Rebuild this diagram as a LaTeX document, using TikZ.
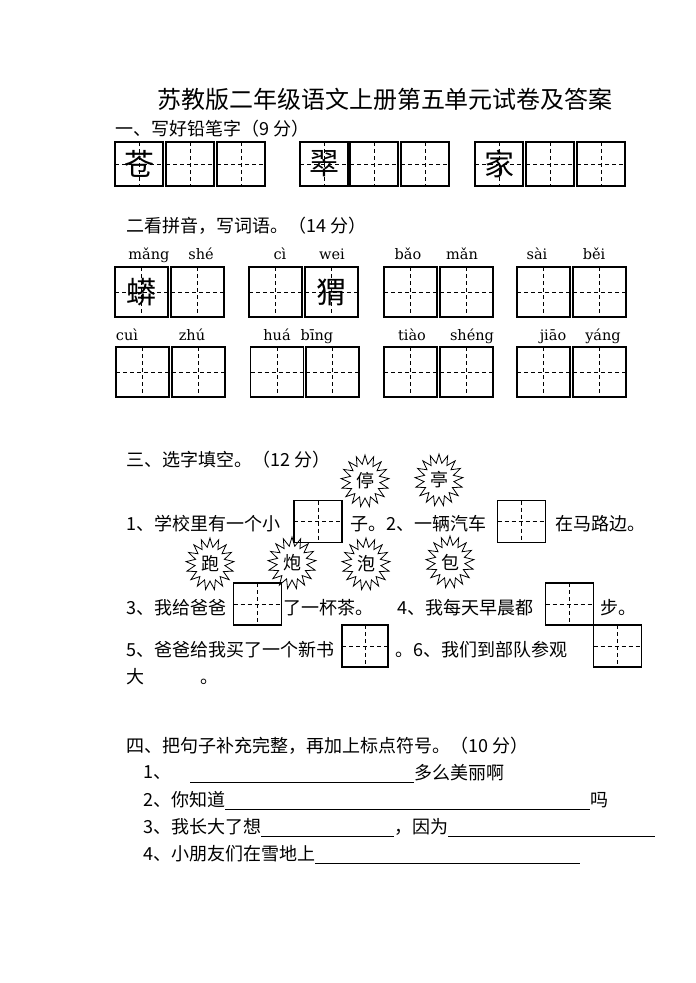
\documentclass[tikz,border=0pt]{standalone}
\usepackage{fontspec}
\setmainfont{Noto Sans CJK SC}
\newfontfamily\pyfont{DejaVu Serif}
\usepackage{tikz}
\usetikzlibrary{shapes.symbols}
\tikzstyle{tianzi} = [rectangle, draw=black, line width=1.2pt, inner sep=0pt, font=\fontsize{30}{30}\selectfont, path picture={\draw[black, line width=0.8pt, dash pattern=on 4pt off 3pt] (path picture bounding box.north) -- (path picture bounding box.south) (path picture bounding box.west) -- (path picture bounding box.east);}]
\tikzstyle{penbox} = [tianzi, minimum width=48pt, minimum height=44pt]
\tikzstyle{pybox} = [tianzi, minimum width=53pt, minimum height=50pt]
\tikzstyle{fillbox} = [tianzi, minimum width=48pt, minimum height=42pt]
\tikzstyle{txt} = [anchor=west, inner sep=0pt, font=\fontsize{18}{18}\selectfont]
\tikzstyle{pinyin} = [anchor=base, inner sep=0pt, font=\pyfont\fontsize{14.5}{14.5}\selectfont]
\tikzstyle{burst} = [starburst, draw=black, line width=0.8pt, starburst points=17, starburst point height=9pt, random starburst=0, minimum width=48pt, minimum height=52pt, inner sep=1pt, font=\fontsize{18}{18}\selectfont]
\tikzstyle{blank} = [line width=0.8pt]

\begin{document}
\begin{tikzpicture}[x=1pt, y=-1pt]
\useasboundingbox (0,0) rectangle (696,983);
\node (title) [inner sep=0pt, font=\fontsize{24}{24}\selectfont] at (385,99) {苏教版二年级语文上册第五单元试卷及答案};

% part one
\node (head1) [txt] at (115,129) {一、写好铅笔字（9 分）};
\node (w1) [penbox] at (139,164) {苍};
\node (w2) [penbox] at (190,164) {};
\node (w3) [penbox] at (241,164) {};
\node (w4) [penbox] at (324,164) {翠};
\node (w5) [penbox] at (374,164) {};
\node (w6) [penbox] at (425,164) {};
\node (w7) [penbox] at (499,164) {家};
\node (w8) [penbox] at (550,164) {};
\node (w9) [penbox] at (601,164) {};

% part two
\node (head2) [txt] at (126,226) {二看拼音，写词语。（14 分）};
\node (py1) [pinyin] at (149,259) {mǎng};
\node (py2) [pinyin] at (201,259) {shé};
\node (py3) [pinyin] at (280,259) {cì};
\node (py4) [pinyin] at (332,259) {wei};
\node (py5) [pinyin] at (408,259) {bǎo};
\node (py6) [pinyin] at (462,259) {mǎn};
\node (py7) [pinyin] at (537,259) {sài};
\node (py8) [pinyin] at (594,259) {běi};
\node (p1) [pybox] at (141.5,292) {蟒};
\node (p2) [pybox] at (197.5,292) {};
\node (p3) [pybox] at (275.5,292) {};
\node (p4) [pybox] at (331.5,292) {猬};
\node (p5) [pybox] at (410.5,292) {};
\node (p6) [pybox] at (466.5,292) {};
\node (p7) [pybox] at (543.5,292) {};
\node (p8) [pybox] at (599.5,292) {};
\node (py9) [pinyin] at (127,340) {cuì};
\node (py10) [pinyin] at (192,340) {zhú};
\node (py11) [pinyin] at (277,340) {huá};
\node (py12) [pinyin] at (317,340) {bīng};
\node (py13) [pinyin] at (412,340) {tiào};
\node (py14) [pinyin] at (472,340) {shéng};
\node (py15) [pinyin] at (553,340) {jiāo};
\node (py16) [pinyin] at (603,340) {yáng};
\node (p9) [pybox] at (142.5,372) {};
\node (p10) [pybox] at (198.5,372) {};
\node (p11) [pybox] at (277,372) {};
\node (p12) [pybox] at (332.5,372) {};
\node (p13) [pybox] at (410.5,372) {};
\node (p14) [pybox] at (466.5,372) {};
\node (p15) [pybox] at (543.5,372) {};
\node (p16) [pybox] at (599.5,372) {};

% part three
\node (head3) [txt] at (126,460) {三、选字填空。（12 分）};
\node (ting1) [burst] at (365,481) {停};
\node (ting2) [burst] at (439,480) {亭};
\node (s1a) [txt] at (126,524) {1、学校里有一个小};
\node (b1) [fillbox] at (318,521.5) {};
\node (s1b) [txt] at (350,524) {子。2、一辆汽车};
\node (b2) [fillbox] at (521.5,521.5) {};
\node (s1c) [txt] at (555,524) {在马路边。};
\node (pao1) [burst] at (210,564) {跑};
\node (pao2) [burst] at (292,563) {炮};
\node (pao3) [burst] at (366,564) {泡};
\node (bao) [burst] at (450,562) {包};
\node (s2a) [txt] at (126,608) {3、我给爸爸};
\node (b3) [fillbox] at (257.5,604) {};
\node (s2b) [txt] at (283,608) {了一杯茶。};
\node (s2c) [txt] at (397,608) {4、我每天早晨都};
\node (b4) [fillbox] at (569.5,604) {};
\node (s2d) [txt] at (600,608) {步。};
\node (s3a) [txt] at (126,650) {5、爸爸给我买了一个新书};
\node (b5) [fillbox, minimum width=46pt] at (365,646) {};
\node (s3b) [txt] at (395,650) {。6、我们到部队参观};
\node (b6) [fillbox] at (617.5,646) {};
\node (s3c) [txt] at (126,677) {大\hspace{56pt}。};

% part four
\node (head4) [txt] at (126,746) {四、把句子补充完整，再加上标点符号。（10 分）};
\node (q1) [txt] at (143,773) {1、};
\coordinate (q1end) at (190,782);
\node (q1b) [txt] at (414,773) {多么美丽啊};
\node (q2) [txt] at (143,800) {2、你知道};
\node (q2b) [txt] at (590,800) {吗};
\node (q3) [txt] at (143,827) {3、我长大了想};
\node (q3b) [txt] at (394,827) {，因为};
\coordinate (q3end) at (655,836);
\node (q4) [txt] at (143,854) {4、小朋友们在雪地上};
\coordinate (q4end) at (580,863);

\draw [blank] (q1end) -- (q1end -| q1b.west);
\draw [blank] (q2.east |- 0,809) -- (q2b.west |- 0,809);
\draw [blank] (q3.east |- 0,836) -- (q3b.west |- 0,836);
\draw [blank] (q3b.east |- q3end) -- (q3end);
\draw [blank] (q4.east |- q4end) -- (q4end);
\end{tikzpicture}
\end{document}
